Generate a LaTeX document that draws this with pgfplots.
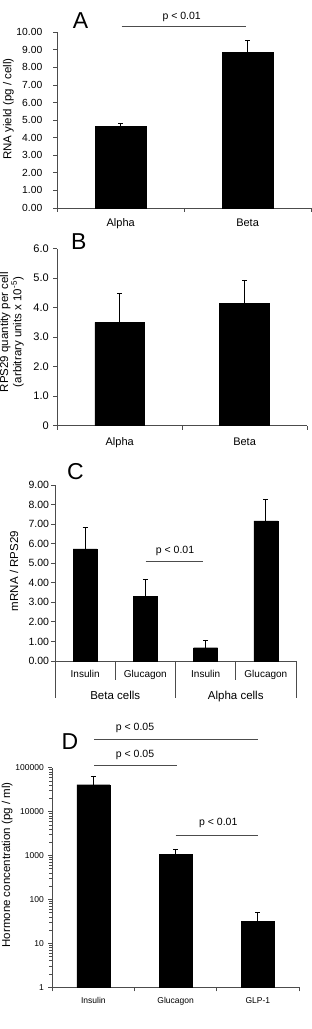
\documentclass[border=0pt]{standalone}
\usepackage{fontspec}
\setmainfont{Liberation Sans}
\usepackage{pgfplots}
\pgfplotsset{compat=1.18}

\newcommand{\fs}[1]{\fontsize{#1}{#1}\selectfont}
\definecolor{axisgray}{gray}{0.3}

\pgfplotsset{
  panel/.style={
    scale only axis, anchor=south west,
    axis x line*=bottom, axis y line*=left,
    axis line style={axisgray, line width=0.8pt},
    tick align=outside, major tick length=4pt,
    tick style={axisgray, line width=0.8pt},
    /pgf/number format/assume math mode=true,
    ybar, bar width=0.4, ymin=0,
    x tick label as interval,
    enlarge x limits=false,
    clip=false,
    error bars/y dir=plus, error bars/y explicit,
    error bars/error mark options={rotate=90, mark size=2.5pt, line width=0.8pt, black},
    error bars/error bar style={line width=0.8pt, black},
    every axis y label/.style={rotate=90, anchor=center},
  },
  solidbar/.style={fill=black, draw=black},
}

\begin{document}
\begin{tikzpicture}
\useasboundingbox (0,0) rectangle (312pt,1029pt);

% ---------- A: RNA yield ----------
\begin{axis}[panel, at={(57.3pt,821pt)}, width=253.7pt, height=175.7pt,
  xmin=-0.5, xmax=1.5, ymax=10,
  xtick={-0.5,0.5,1.5}, xticklabels={Alpha,Beta},
  ytick={0,1,...,10},
  yticklabel style={font=\fs{10.3}, xshift=-7.5pt, /pgf/number format/.cd, fixed, fixed zerofill, precision=2},
  xticklabel style={font=\fs{11}, yshift=-3pt},
  ylabel={RNA yield (pg / cell)}, ylabel style={font=\fs{11.5}, at={(rel axis cs:-0.193,0.5635)}},
]
\addplot[solidbar] coordinates {(0,4.63) +- (0,0.19) (1,8.84) +- (0,0.68)};
\end{axis}

% ---------- B: RPS29 ----------
\begin{axis}[panel, at={(57.3pt,603.3pt)}, width=249.7pt, height=177pt,
  xmin=-0.5, xmax=1.5, ymax=6,
  xtick={-0.5,0.5,1.5}, xticklabels={Alpha,Beta},
  ytick={0,1,...,6}, yticklabels={0,1.0,2.0,3.0,4.0,5.0,6.0},
  yticklabel style={font=\fs{11}, xshift=-1pt},
  xticklabel style={font=\fs{11}, yshift=-4.5pt},
  ylabel={RPS29 quantity per cell\\(arbitrary units x 10\textsuperscript{-5})},
  ylabel style={font=\fs{11.5}, align=center, at={(rel axis cs:-0.1826,0.529)}},
]
\addplot[solidbar] coordinates {(0,3.50) +- (0,0.99) (1,4.14) +- (0,0.79)};
\end{axis}

% ---------- C: mRNA / RPS29 ----------
\begin{axis}[panel, at={(55pt,368pt)}, width=241pt, height=176pt,
  xmin=-0.5, xmax=3.5, ymax=9,
  xtick={-0.5,0.5,1.5,2.5,3.5}, xticklabels={Insulin,Glucagon,Insulin,Glucagon},
  xtick style={draw=none},
  ytick={0,1,...,9},
  yticklabel style={font=\fs{10.5}, xshift=1.5pt, /pgf/number format/.cd, fixed, fixed zerofill, precision=2},
  xticklabel style={font=\fs{10}, yshift=-1.5pt},
  ylabel={mRNA / RPS29}, ylabel style={font=\fs{11.5}, at={(rel axis cs:-0.170,0.511)}},
]
\addplot[solidbar] coordinates {(0,5.73) +- (0,1.12) (1,3.31) +- (0,0.88) (2,0.68) +- (0,0.38) (3,7.16) +- (0,1.09)};
% category separators below the axis
\draw[axisgray, line width=0.8pt] (axis cs:0.5,0) -- ++(0pt,-19pt);
\draw[axisgray, line width=0.8pt] (axis cs:2.5,0) -- ++(0pt,-19pt);
\draw[axisgray, line width=0.8pt] (axis cs:-0.5,0) -- ++(0pt,-37pt);
\draw[axisgray, line width=0.8pt] (axis cs:1.5,0) -- ++(0pt,-37pt);
\draw[axisgray, line width=0.8pt] (axis cs:3.5,0) -- ++(0pt,-37pt);
\node[font=\fs{11.5}, anchor=north] at (axis cs:0.5,0) [yshift=-27pt] {Beta cells};
\node[font=\fs{11.5}, anchor=north] at (axis cs:2.5,0) [yshift=-27pt] {Alpha cells};
\end{axis}

% ---------- D: hormone concentration ----------
\begin{axis}[panel, at={(52.3pt,41.7pt)}, width=246.7pt, height=219.5pt,
  ymode=log, ymin=1, ymax=100000, log origin=infty,
  xmin=-0.5, xmax=2.5,
  xtick={-0.5,0.5,1.5,2.5}, xticklabels={Insulin,Glucagon,GLP-1},
  ytick={1,10,100,1000,10000,100000}, yticklabels={1,10,100,1000,10000,100000},
  yticklabel style={font=\fs{8.5}, xshift=-1pt},
  xticklabel style={font=\fs{8.5}, yshift=-3pt},
  ylabel={Hormone concentration (pg / ml)}, ylabel style={font=\fs{11.5}, at={(rel axis cs:-0.183,0.557)}},
]
\addplot[solidbar] coordinates {(0,41200) +- (0,21800) (1,1070) +- (0,290) (2,31.8) +- (0,18.2)};
\end{axis}

% ---------- panel letters and significance bars ----------
\begin{scope}[font=\fs{23}]
\node[anchor=base west, inner sep=0pt] at (72.7pt,1000.7pt) {A};
\node[anchor=base west, inner sep=0pt] at (71pt,779pt) {B};
\node[anchor=base west, inner sep=0pt] at (67pt,549.5pt) {C};
\node[anchor=base west, inner sep=0pt] at (61.5pt,279pt) {D};
\end{scope}

\begin{scope}[axisgray, line width=0.8pt]
\draw (121.7pt,1002.3pt) -- (246pt,1002.3pt);
\draw (145.7pt,468pt) -- (202.7pt,468pt);
\draw (94.3pt,289.7pt) -- (258.3pt,289.7pt);
\draw (94.3pt,263.3pt) -- (176.7pt,263.3pt);
\draw (175.7pt,193.3pt) -- (258.3pt,193.3pt);
\end{scope}
\begin{scope}[font=\fs{10.5}]
\node at (181.7pt,1011.7pt) {p < 0.01};
\node at (175pt,478.3pt) {p < 0.01};
\node at (135pt,300.7pt) {p < 0.05};
\node at (135pt,273.7pt) {p < 0.05};
\node at (218.3pt,205.7pt) {p < 0.01};
\end{scope}
\end{tikzpicture}
\end{document}
